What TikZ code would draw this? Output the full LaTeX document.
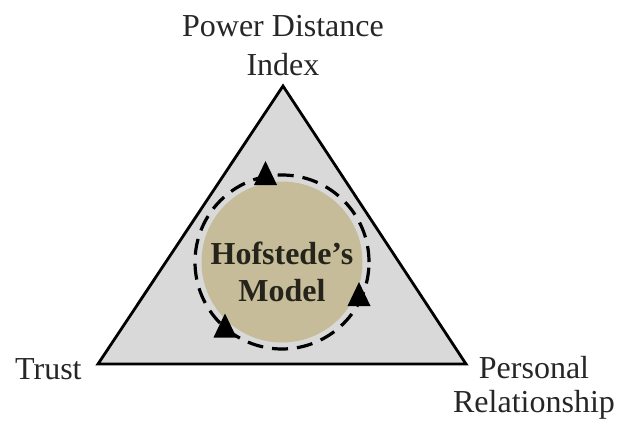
\documentclass[tikz,border=0pt]{standalone}
\usepackage{fontspec}
\setmainfont{Liberation Serif}
\usetikzlibrary{positioning}
\definecolor{trigray}{HTML}{D9D9D9}
\definecolor{modeltan}{HTML}{C6BC99}
\definecolor{inktext}{HTML}{262626}
\definecolor{modelink}{HTML}{24241A}

\begin{document}
\begin{tikzpicture}[x=1pt,y=1pt,
  tag/.style={font=\fontsize{32}{39}\selectfont, text=inktext, align=center, inner sep=0pt},
  core/.style={circle, fill=modeltan, minimum size=161pt, inner sep=0pt},
  ring/.style={line width=3.2pt, dash pattern=on 16pt off 9pt},
  tip/.style={fill=black}]

\useasboundingbox (0,0) rectangle (618,421);

% Triangle
\coordinate (top) at (283,335);
\coordinate (left) at (98,57);
\coordinate (right) at (466,57);
\draw[line width=2.8pt, fill=trigray] (left) -- (right) -- (top) -- cycle;

% Model circle
\node[core] (model) at (282,159) {};
\draw[ring] (model.center) circle (87);
\node[font=\bfseries\fontsize{32}{37}\selectfont, text=modelink, align=center, inner sep=0pt]
  (name) at (282,149) {Hofstede's\\Model};

% Arrow heads on the ring
\foreach \px/\py in {265.5/236, 359/115, 225/83.5}
  \fill[tip] (\px-11.5,\py) -- (\px+11.5,\py) -- (\px,\py+24) -- cycle;

% Corner labels
\node[tag, above=10pt of top] (pdi) {Power Distance\\Index};
\node[tag, anchor=base west] (trust) at (15,42) {Trust};
\node[tag, font=\fontsize{32}{34}\selectfont] (pr) at (534,33) {Personal\\Relationship};

\end{tikzpicture}
\end{document}
